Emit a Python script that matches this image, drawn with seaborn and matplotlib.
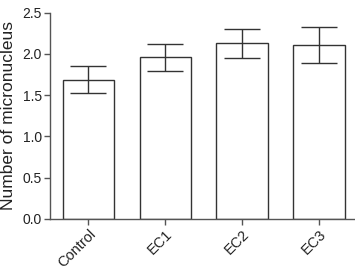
import matplotlib
matplotlib.use('Agg')
import matplotlib.pyplot as plt
import seaborn as sns
import pandas as pd

groups = ['Control', 'EC1', 'EC2', 'EC3']
means = [1.69, 1.96, 2.13, 2.11]
errors = [0.16, 0.165, 0.175, 0.215]

df = pd.DataFrame({'group': groups, 'mean': means, 'err': errors})

sns.set_style('ticks')
plt.rcParams['font.family'] = ['Liberation Sans', 'DejaVu Sans']

fig = plt.figure(figsize=(3.55, 2.71), dpi=100)
ax = fig.add_axes([0.141, 0.192, 0.859, 0.761])

sns.barplot(data=df, x='group', y='mean', color='white', edgecolor='#333333',
            linewidth=1.0, width=0.67, errorbar=None, ax=ax)
ax.errorbar(range(len(groups)), df['mean'], yerr=df['err'], fmt='none',
            ecolor='#333333', elinewidth=1.0, capsize=13, capthick=1.0)

ax.set_ylim(0, 2.5)
ax.set_xlim(-0.5, 3.47)
ax.set_yticks([0, 0.5, 1.0, 1.5, 2.0, 2.5])
ax.set_yticklabels(['0.0', '0.5', '1.0', '1.5', '2.0', '2.5'])
ax.set_xlabel('')
ax.set_ylabel('Number of micronucleus', fontsize=12.5, color='#222222')
ax.yaxis.set_label_coords(-0.112, 0.5)
ax.tick_params(axis='both', length=4, width=1.0, color='#555555',
               labelcolor='#222222')
ax.tick_params(axis='y', labelsize=10, pad=2)
ax.tick_params(axis='x', labelsize=10.5, pad=2)
plt.setp(ax.get_xticklabels(), rotation=45, ha='right', rotation_mode='anchor')

for side in ['top', 'right']:
    ax.spines[side].set_visible(False)
for side in ['left', 'bottom']:
    ax.spines[side].set_color('#555555')
    ax.spines[side].set_linewidth(1.0)

fig.savefig('out.png', dpi=100)
